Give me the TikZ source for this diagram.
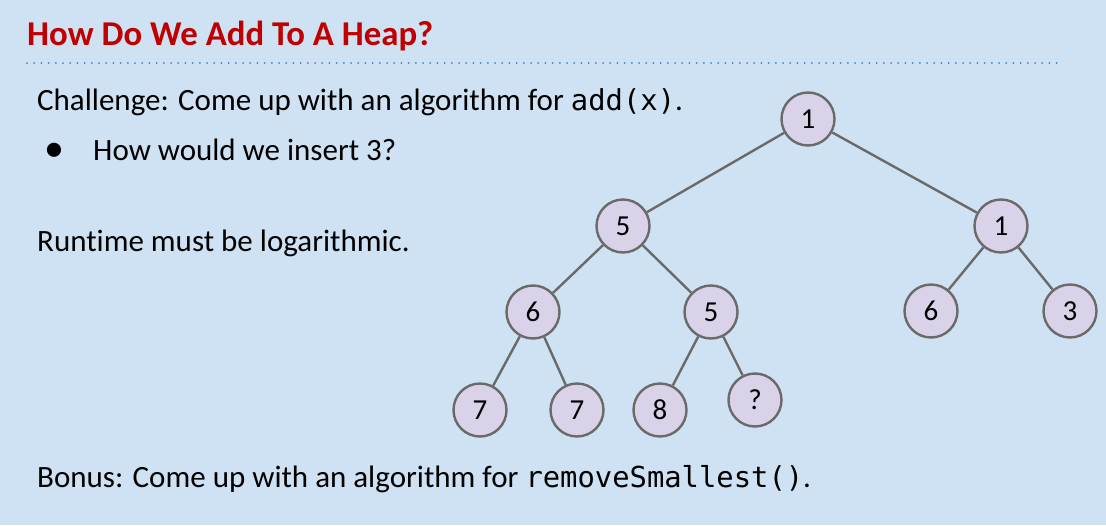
\documentclass[tikz,border=0pt]{standalone}
\usepackage{fontspec}
\setmainfont[Ligatures=CommonOff]{Carlito}
\setmonofont[Scale=0.93]{DejaVu Sans Mono}
\begin{document}
\begin{tikzpicture}[x=1pt,y=-1pt,
  heapnode/.style={circle,draw=edgegray,fill=nodefill,line width=2.4pt,minimum size=53pt,inner sep=0pt,font=\fontsize{29}{30}\selectfont},
  edge/.style={draw=edgegray,line width=2.4pt},
  body/.style={anchor=base west,inner sep=0pt,font=\fontsize{31}{34}\selectfont},
]
\definecolor{bg}{HTML}{CFE2F3}
\definecolor{nodefill}{HTML}{D9D2E9}
\definecolor{edgegray}{HTML}{6A6A6A}
\definecolor{titlered}{HTML}{C00000}
\definecolor{dotblue}{HTML}{3D85C6}
\fill[bg] (0,0) rectangle (1106,525);
\useasboundingbox (0,0) rectangle (1106,525);

% heading and dotted rule
\node[anchor=base west,inner sep=0pt,text=titlered,font=\fontsize{34.8}{40}\selectfont\bfseries] (title) at (27,45) {How Do We Add To A Heap?};
\coordinate (ruleL) at (27,63);
\coordinate (ruleR) at (1060,63);
\draw[dotblue,line width=2pt,line cap=round,dash pattern=on 0pt off 7.2pt] (ruleL) -- (ruleR);

% text
\node[body] (challenge) at (37,110) {Challenge: Come up with an algorithm for \texttt{add(x)}.};
\node[body,font=\fontsize{40}{40}\selectfont] (bullet) at (44,161) {\textbullet};
\node[body] (insert) at (93,160) {How would we insert 3?};
\node[body] (runtime) at (37,251) {Runtime must be logarithmic.};
\node[body] (bonus) at (37,487) {Bonus: Come up with an algorithm for \texttt{removeSmallest()}.};

% heap
\node[heapnode] (r) at (808,119) {1};
\node[heapnode] (a) at (623,226) {5};
\node[heapnode] (b) at (1001,226) {1};
\node[heapnode] (aa) at (533,312) {6};
\node[heapnode] (ab) at (711,312) {5};
\node[heapnode] (ba) at (931,311) {6};
\node[heapnode] (bb) at (1070,311) {3};
\node[heapnode] (aaa) at (480,410) {7};
\node[heapnode] (aab) at (577,410) {7};
\node[heapnode] (aba) at (660,410) {8};
\node[heapnode] (abb) at (755,400) {?};

\draw[edge] (r) -- (a);
\draw[edge] (r) -- (b);
\draw[edge] (a) -- (aa);
\draw[edge] (a) -- (ab);
\draw[edge] (b) -- (ba);
\draw[edge] (b) -- (bb);
\draw[edge] (aa) -- (aaa);
\draw[edge] (aa) -- (aab);
\draw[edge] (ab) -- (aba);
\draw[edge] (ab) -- (abb);
\end{tikzpicture}
\end{document}
